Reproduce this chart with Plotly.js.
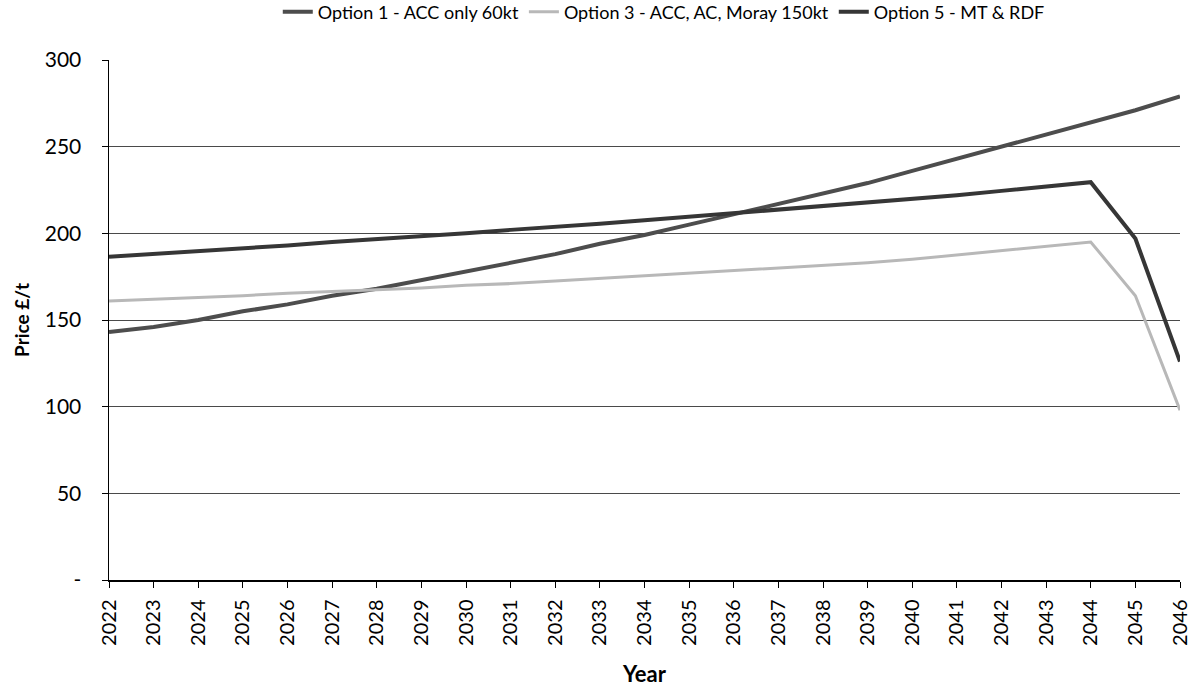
<!DOCTYPE html>
<html>
<head>
<meta charset="utf-8">
<script src="https://cdn.plot.ly/plotly-3.0.1.min.js"></script>
<style>html,body{margin:0;padding:0;background:#fff;}#chart{width:1191px;height:688px;}</style>
</head>
<body>
<div id="chart"></div>
<script>
const years = [2022,2023,2024,2025,2026,2027,2028,2029,2030,2031,2032,2033,2034,2035,2036,2037,2038,2039,2040,2041,2042,2043,2044,2045,2046];
const option1 = [143,146,150,155,159,164,168,173,178,183,188,194,199,205,211,217,223,229,236,243,250,257,264,271,279];
const option3 = [161,162,163,164,165.5,166.5,167.5,168.5,170,171,172.5,174,175.5,177,178.5,180,181.5,183,185,187.5,190,192.5,195,164,98];
const option5 = [186.5,188,190,191.5,193,195,196.5,198,200,202,203.5,205.5,207.5,209.5,211.5,213.5,215.5,217.5,219.5,222,224.5,227,229.5,197,126];
const seriesNames = ['Option 1 - ACC only 60kt','Option 3 - ACC, AC, Moray 150kt','Option 5 - MT & RDF'];
const yTickVals = [0,50,100,150,200,250,300];
const yTickText = ['-','50','100','150','200','250','300'];

const traces = [
  {x: years, y: option1, name: seriesNames[0], mode: 'lines', line: {color: '#4d4d4d', width: 4}},
  {x: years, y: option3, name: seriesNames[1], mode: 'lines', line: {color: '#b8b8b8', width: 3}},
  {x: years, y: option5, name: seriesNames[2], mode: 'lines', line: {color: '#363636', width: 4}}
];

const layout = {
  width: 1191, height: 688,
  margin: {l: 109, r: 11, t: 60, b: 108, autoexpand: false},
  paper_bgcolor: '#fff', plot_bgcolor: '#fff',
  font: {family: 'Lato, "Open Sans", sans-serif', color: '#000'},
  showlegend: true,
  legend: {orientation: 'h', x: 0.518, xanchor: 'center', y: 1.128, yanchor: 'top',
           font: {size: 18, color: '#000'}, bgcolor: 'rgba(0,0,0,0)', itemwidth: 30},
  xaxis: {
    range: [2022, 2046], tickvals: years, ticktext: years.map(String),
    tickangle: -90, tickfont: {size: 20}, ticks: 'outside', ticklen: 6, tickcolor: '#000',
    ticklabelstandoff: 4,
    showline: true, linecolor: '#000', linewidth: 1.5, showgrid: false, zeroline: false,
    title: {text: 'Year', font: {size: 22, weight: 'bold'}, standoff: 21}
  },
  yaxis: {
    range: [0, 300], tickvals: yTickVals, ticktext: yTickText, tickfont: {size: 21},
    ticks: 'outside', ticklen: 6, tickcolor: '#000', ticklabelstandoff: 16,
    showline: true, linecolor: '#000', linewidth: 1.5,
    showgrid: true, gridcolor: '#4a4a4a', gridwidth: 1, zeroline: false,
    title: {text: 'Price £/t', font: {size: 19, weight: 'bold'}, standoff: 10}
  }
};

Plotly.newPlot('chart', traces, layout, {displayModeBar: false, staticPlot: true});
</script>
</body>
</html>
